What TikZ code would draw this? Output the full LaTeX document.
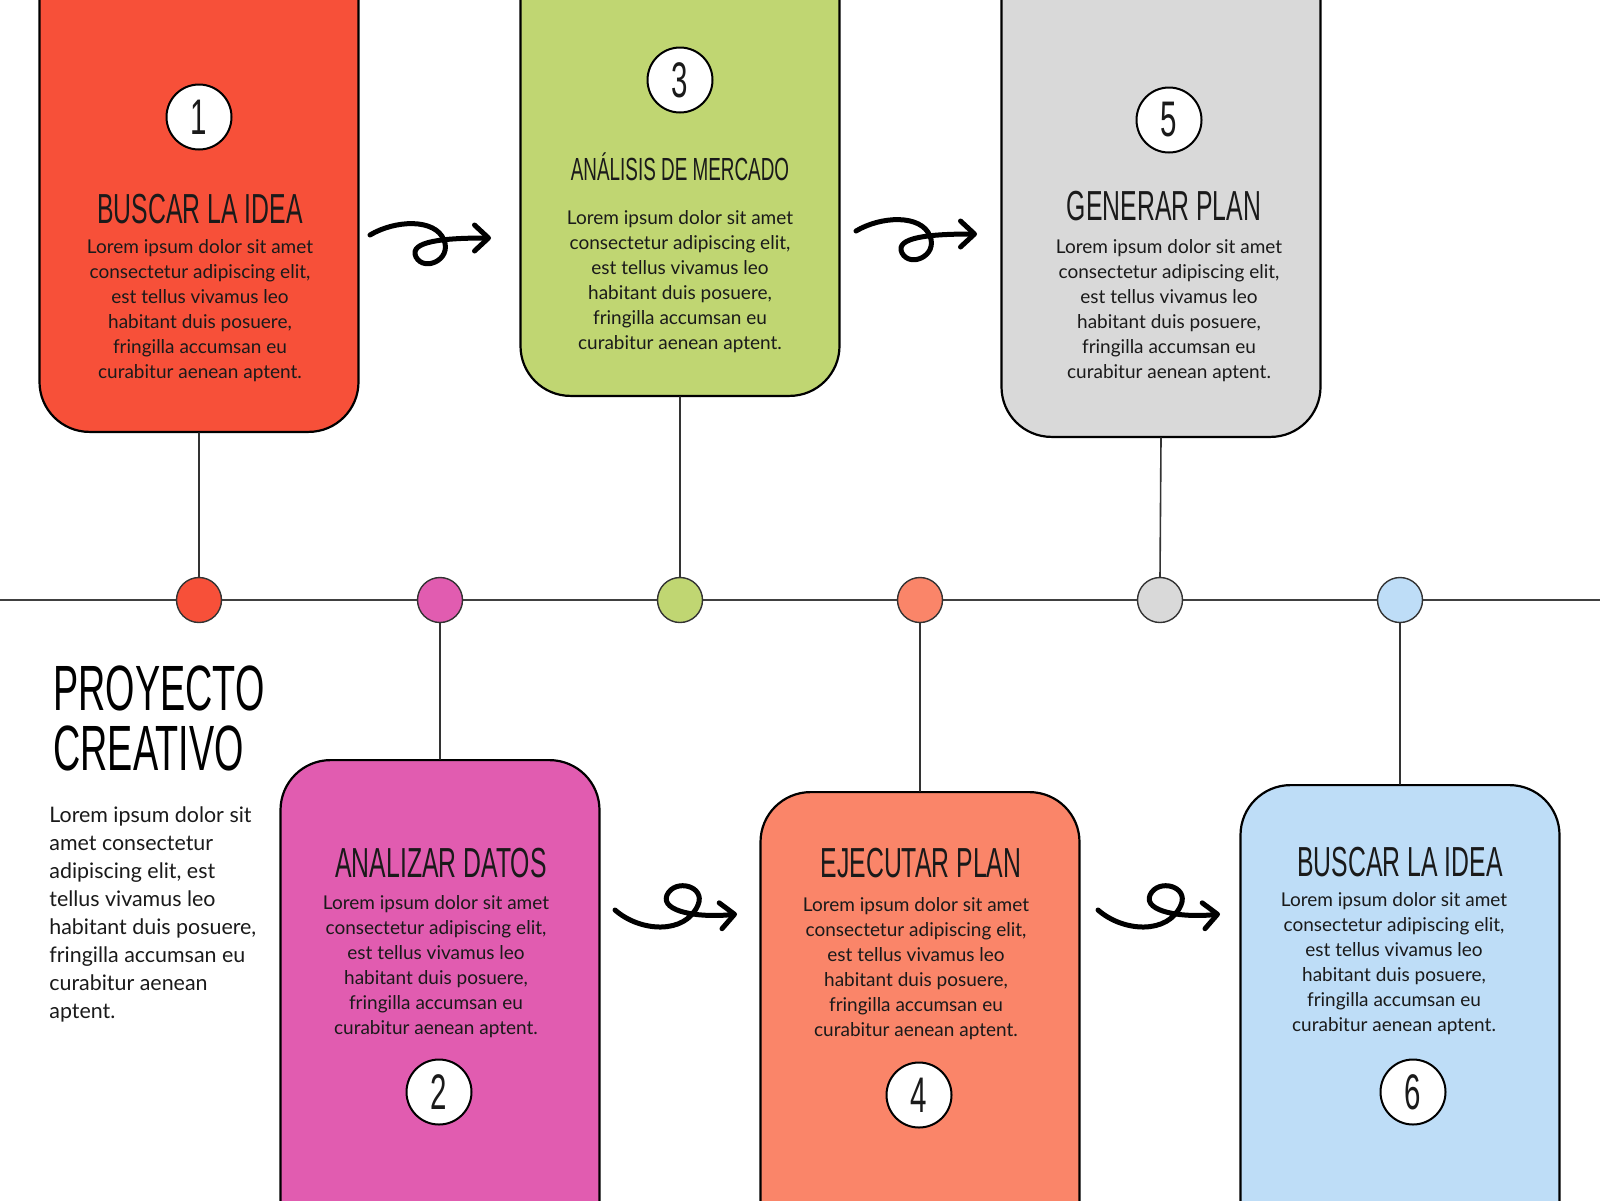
\documentclass[tikz,border=0pt]{standalone}
\usepackage{fontspec}
\setmainfont{Lato}
\newfontfamily\headfont[FakeStretch=0.59]{Liberation Sans}
\usetikzlibrary{arrows.meta}
\usetikzlibrary{positioning}

\definecolor{cRed}{HTML}{F75039}
\definecolor{cPink}{HTML}{E15CB0}
\definecolor{cGreen}{HTML}{C0D672}
\definecolor{cOrange}{HTML}{FA8569}
\definecolor{cGrey}{HTML}{D9D9D9}
\definecolor{cBlue}{HTML}{BEDDF7}
\definecolor{ink}{HTML}{1A1A1A}

\newcommand\loremtext{Lorem ipsum dolor sit amet\\consectetur adipiscing elit,\\est tellus vivamus leo\\habitant duis posuere,\\fringilla accumsan eu\\curabitur aenean aptent.}

\begin{document}
\begin{tikzpicture}[x=0.5pt,y=-0.5pt,line cap=round,line join=round,
    card/.style={draw=black,line width=1.1pt,rounded corners=25pt,minimum width=159.5pt,minimum height=300pt,inner sep=0pt},
    num/.style={circle,draw=black,fill=white,line width=1pt,minimum size=32.5pt,inner sep=0pt,text=ink,font=\headfont\fontsize{25}{25}\selectfont},
    dot/.style={circle,draw=black!80,line width=0.7pt,minimum size=22.5pt,inner sep=0pt},
    head/.style={anchor=base,inner sep=0pt,text=ink,font=\headfont\fontsize{21}{21}\selectfont},
    body/.style={anchor=north,inner sep=0pt,align=center,text=ink,font=\fontsize{9.5}{12.5}\selectfont},
    link/.style={draw=black!80,line width=0.8pt},
    curly/.style={line width=2.5pt,-{Straight Barb[round,length=7pt,width=13pt]}}]
        \path[use as bounding box,fill=white] (0,0) rectangle (1600,1200);
        \clip (0,0) rectangle (1600,1200);
        % timeline
        \coordinate (tl-l) at (0,600);
        \coordinate (tl-r) at (1600,600);
        \draw[black!75,line width=0.9pt] (tl-l) -- (tl-r);
        % cards above the line
        \node[card,fill=cRed,anchor=south] (box1) at (199,433) {};
        \node[card,fill=cGreen,anchor=south] (box3) at (680,397) {};
        \node[card,fill=cGrey,anchor=south] (box5) at (1161,438) {};
        % cards below the line
        \node[card,fill=cPink,anchor=north] (box2) at (440,759) {};
        \node[card,fill=cOrange,anchor=north] (box4) at (920,791) {};
        \node[card,fill=cBlue,anchor=north] (box6) at (1400,784) {};
        % dots
        \foreach \i/\x/\c in {1/199/cRed,2/440/cPink,3/680/cGreen,4/920/cOrange,5/1160/cGrey,6/1400/cBlue}
            \node[dot,fill=\c] (d\i) at (\x,600) {};
        % links
        \draw[link] (box1.south) -- (d1.north);
        \draw[link] (box3.south) -- (d3.north);
        \draw[link] (box5.south) -- (d5.north);
        \draw[link] (d2.south) -- (box2.north);
        \draw[link] (d4.south) -- (box4.north);
        \draw[link] (d6.south) -- (box6.north);
        % numbers
        \node[num] (n1) at (199,117) {1};
        \node[num] (n3) at (680,80) {3};
        \node[num] (n5) at (1169,120) {5};
        \node[num] (n2) at (439,1092) {2};
        \node[num] (n4) at (919,1095) {4};
        \node[num] (n6) at (1413,1092) {6};
        % titles
        \node[head] (t1) at (200,223) {BUSCAR LA IDEA};
        \node[head,font=\headfont\fontsize{16}{16}\selectfont] (t3) at (680,180) {ANÁLISIS DE MERCADO};
        \node[head] (t5) at (1164,220) {GENERAR PLAN};
        \node[head] (t2) at (441,877) {ANALIZAR DATOS};
        \node[head] (t4) at (921,877) {EJECUTAR PLAN};
        \node[head] (t6) at (1400,876) {BUSCAR LA IDEA};
        % texts
        \node[body] (b1) at (200,239) {\loremtext};
        \node[body] (b3) at (680,210) {\loremtext};
        \node[body] (b5) at (1169,239) {\loremtext};
        \node[body] (b2) at (436,895) {\loremtext};
        \node[body] (b4) at (916,897) {\loremtext};
        \node[body] (b6) at (1394,892) {\loremtext};
        % heading and intro
        \node[anchor=north west,inner sep=0pt,align=left,text=black,font=\headfont\fontsize{32}{30}\selectfont] (title) at (53,665) {PROYECTO\\CREATIVO};
        \node[anchor=north west,inner sep=0pt,align=left,text=ink,font=\fontsize{10.7}{14}\selectfont] (intro) at (49,806) {Lorem ipsum dolor sit\\amet consectetur\\adipiscing elit, est\\tellus vivamus leo\\habitant duis posuere,\\fringilla accumsan eu\\curabitur aenean\\aptent.};
        % curly arrows
        \foreach \dx/\dy in {0/0,486/-4}
            \draw[curly,shift={(\dx,\dy)}] (370,235) .. controls (395,220) and (435,218) .. (444,240) .. controls (452,260) and (424,272) .. (416,257) .. controls (408,241) and (445,238) .. (491,238);
        \foreach \dx/\dy in {0/0,483/0}
            \draw[curly,shift={(\dx,\dy)}] (615,910) .. controls (640,932) and (685,935) .. (698,905) .. controls (706,886) and (675,878) .. (667,895) .. controls (660,912) and (700,918) .. (737,914);
\end{tikzpicture}
\end{document}
